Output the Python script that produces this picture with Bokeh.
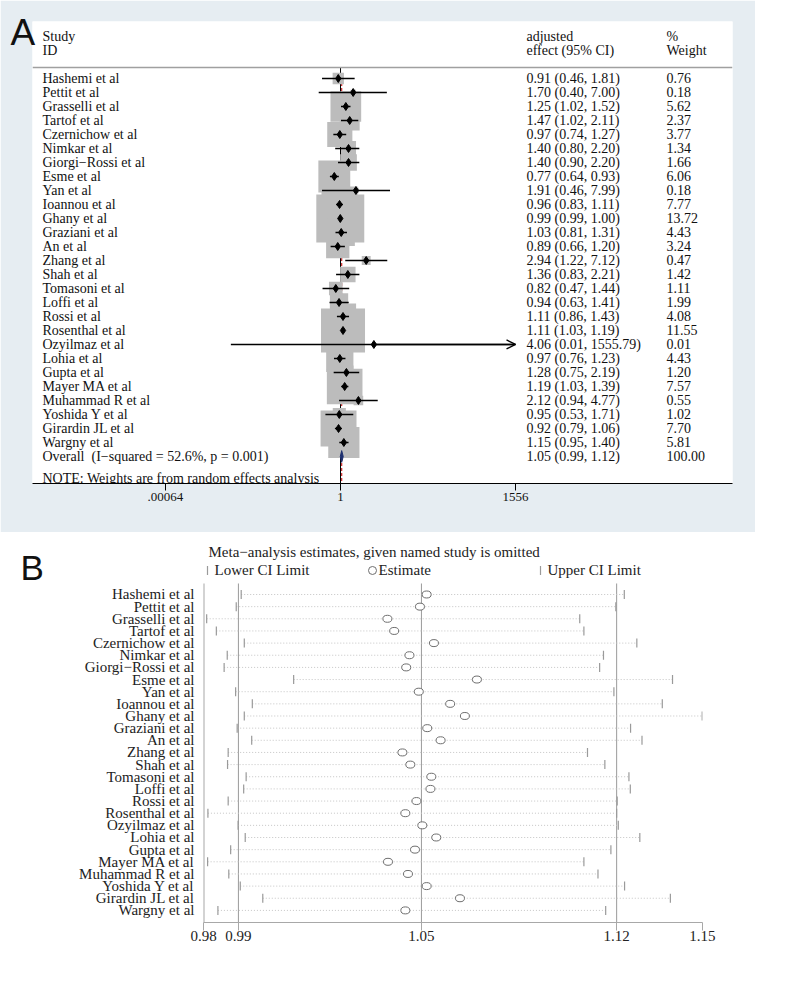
import math
from bokeh.plotting import figure
from bokeh.models import (Range1d, FixedTicker, CustomJSTickFormatter, Span, Label,
                          ColumnDataSource, Arrow, OpenHead, LinearScale)
from bokeh.embed import file_html
from bokeh.resources import INLINE
from bokeh.core.properties import value

SERIF = "Liberation Serif"
SANS = "Liberation Sans"
BG = "#e6edf2"

# ---------------- data ----------------
studies = ["Hashemi et al", "Pettit et al", "Grasselli et al", "Tartof et al",
           "Czernichow et al", "Nimkar et al", "Giorgi\u2212Rossi et al", "Esme et al",
           "Yan et al", "Ioannou et al", "Ghany et al", "Graziani et al", "An et al",
           "Zhang et al", "Shah et al", "Tomasoni et al", "Loffi et al", "Rossi et al",
           "Rosenthal et al", "Ozyilmaz et al", "Lohia et al", "Gupta et al",
           "Mayer MA et al", "Muhammad R et al", "Yoshida Y et al", "Girardin JL et al",
           "Wargny et al"]
effect = [0.91, 1.70, 1.25, 1.47, 0.97, 1.40, 1.40, 0.77, 1.91, 0.96, 0.99, 1.03, 0.89,
          2.94, 1.36, 0.82, 0.94, 1.11, 1.11, 4.06, 0.97, 1.28, 1.19, 2.12, 0.95, 0.92, 1.15]
lower = [0.46, 0.40, 1.02, 1.02, 0.74, 0.80, 0.90, 0.64, 0.46, 0.83, 0.99, 0.81, 0.66,
         1.22, 0.83, 0.47, 0.63, 0.86, 1.03, 0.01, 0.76, 0.75, 1.03, 0.94, 0.53, 0.79, 0.95]
upper = [1.81, 7.00, 1.52, 2.11, 1.27, 2.20, 2.20, 0.93, 7.99, 1.11, 1.00, 1.31, 1.20,
         7.12, 2.21, 1.44, 1.41, 1.43, 1.19, 1555.79, 1.23, 2.19, 1.39, 4.77, 1.71, 1.06, 1.40]
weight = [0.76, 0.18, 5.62, 2.37, 3.77, 1.34, 1.66, 6.06, 0.18, 7.77, 13.72, 4.43, 3.24,
          0.47, 1.42, 1.11, 1.99, 4.08, 11.55, 0.01, 4.43, 1.20, 7.57, 0.55, 1.02, 7.70, 5.81]
overall_est, overall_lo, overall_hi = 1.05, 0.99, 1.12
overall_weight = 100.00
i_squared = 52.6
p_het = 0.001
a_ticks = [0.00064, 1, 1556]
a_tick_labels = [".00064", "1", "1556"]

b_lower = [0.9906, 0.9890, 0.9795, 0.9826, 0.9916, 0.9861, 0.9851, 1.0077, 0.9888, 0.9942,
           0.9916, 0.9893, 0.9940, 0.9864, 0.9862, 0.9922, 0.9914, 0.9864, 0.9799, 0.9896,
           0.9919, 0.9872, 0.9798, 0.9866, 0.9903, 0.9976, 0.9831]
b_est = [1.0524, 1.0501, 1.0390, 1.0413, 1.0549, 1.0465, 1.0454, 1.0698, 1.0497, 1.0605,
         1.0656, 1.0526, 1.0572, 1.0441, 1.0468, 1.0540, 1.0537, 1.0489, 1.0451, 1.0509,
         1.0557, 1.0484, 1.0392, 1.0460, 1.0524, 1.0639, 1.0451]
b_upper = [1.1225, 1.1194, 1.1063, 1.1078, 1.1271, 1.1149, 1.1135, 1.1403, 1.1187, 1.1365,
           1.1514, 1.1248, 1.1290, 1.1091, 1.1154, 1.1242, 1.1247, 1.1199, 1.1197, 1.1203,
           1.1282, 1.1176, 1.1078, 1.1129, 1.1226, 1.1395, 1.1157]
b_overall = [0.9897, 1.0506, 1.1197]
b_ticks = [0.9785, 0.9897, 1.0506, 1.1197, 1.1515]
b_tick_labels = ["0.98", "0.99", "1.05", "1.12", "1.15"]
b_title = "Meta\u2212analysis estimates, given named study is omitted"
b_legend = ["Lower CI Limit", "Estimate", "Upper CI Limit"]

n = len(studies)
rows = list(range(1, n + 1))

FMT = """
let best = 0, bd = Infinity;
for (let i = 0; i < vals.length; i++) {
  const d = Math.abs(Math.log(tick) - Math.log(vals[i]));
  if (d < bd) { bd = d; best = i; }
}
return labs[best];
"""

# ---------------- Panel A ----------------
pA = figure(width=755, height=532, x_axis_type="log",
            x_range=Range1d(2.41e-6, 1.41e7), y_range=Range1d(29.929, -3.071),
            y_axis_location=None, output_backend="svg", toolbar_location=None,
            min_border_left=32, min_border_right=23, min_border_top=21, min_border_bottom=49)
pA.extra_x_ranges = {"px": Range1d(0, 700)}
pA.extra_x_scales = {"px": LinearScale()}
pA.background_fill_color = "white"
pA.border_fill_color = BG
pA.outline_line_color = None
pA.grid.visible = False

srcA = ColumnDataSource(dict(
    row=rows, est=effect, lo=lower, hi=upper,
    box=[12.95 * math.sqrt(w) for w in weight],
    name=studies,
    eff=[f"{e:.2f} ({l:.2f}, {u:.2f})" for e, l, u in zip(effect, lower, upper)],
    wt=[f"{w:.2f}" for w in weight],
))

overall_row = n + 1
pA.segment(x0=[1], y0=[0.214], x1=[1], y1=[29.93], line_color="black", line_width=1)
pA.segment(x0=[overall_est], y0=[0.6], x1=[overall_est], y1=[29.93],
           line_color="#cc2a2a", line_dash="3 2", line_width=1.2)
pA.scatter("est", "row", source=srcA, marker="square", size="box",
           fill_color="#bcbcbc", line_color=None)
pA.segment(x0="lo", y0="row", x1="hi", y1="row", source=srcA, line_color="black", line_width=1.4)
for i in range(n):
    if upper[i] >= 0.99 * a_ticks[-1]:
        pA.add_layout(Arrow(end=OpenHead(size=9, line_width=1.4, line_color="black"),
                            x_start=effect[i], y_start=rows[i], x_end=upper[i], y_end=rows[i],
                            line_width=1.4, line_color="black"))
pA.scatter("est", "row", source=srcA, marker="diamond", size=8,
           fill_color="black", line_color="black")
pA.patch(x=[overall_lo, overall_est, overall_hi, overall_est],
         y=[overall_row, overall_row - 0.42, overall_row, overall_row + 0.42],
         fill_color="#1d2f6f", line_color="#1d2f6f", line_width=1)

txt = dict(x_range_name="px", text_font=value(SERIF), text_font_size="14px",
           text_baseline="middle", text_color="#111111")
pA.text(x=10, y="row", text="name", source=srcA, **txt)
pA.text(x=494, y="row", text="eff", source=srcA, **txt)
pA.text(x=634, y="row", text="wt", source=srcA, **txt)
pA.text(x=[10, 10, 494, 494, 634, 634], y=[-2.0, -1.0, -2.0, -1.0, -2.0, -1.0],
        text=["Study", "ID", "adjusted", "effect (95% CI)", "%", "Weight"], **txt)
pA.text(x=[10, 494, 634], y=[overall_row] * 3,
        text=[f"Overall\u00a0 (I\u2212squared = {i_squared:.1f}%, p = {p_het:.3f})",
              f"{overall_est:.2f} ({overall_lo:.2f}, {overall_hi:.2f})",
              f"{overall_weight:.2f}"], **txt)
pA.text(x=[10], y=[29.57], text=["NOTE: Weights are from random effects analysis"], **txt)

pA.add_layout(Span(location=0.214, dimension="width", line_color="#a0a0a0", line_width=1.5))

ax = pA.xaxis[0]
ax.ticker = FixedTicker(ticks=a_ticks, minor_ticks=[])
ax.formatter = CustomJSTickFormatter(args=dict(vals=a_ticks, labs=a_tick_labels), code=FMT)
ax.major_tick_out = 7
ax.major_tick_in = 0
ax.minor_tick_line_color = None
ax.axis_line_color = "black"
ax.major_tick_line_color = "black"
ax.major_label_text_font = SERIF
ax.major_label_text_font_size = "13px"
ax.major_label_text_color = "#111111"
ax.major_label_standoff = 2

pA.add_layout(Label(x=-22, y=-2.286, x_range_name="px", text="A", text_font=SANS,
                    text_font_size="37px", text_baseline="alphabetic", text_align="left",
                    text_color="#111111"), "left")

# ---------------- Panel B ----------------
B_TOP, B_BOT = 0.0947, 27.996      # rows at the top and bottom of the plotting region
pB = figure(width=755, height=441, x_axis_type="log",
            x_range=Range1d(0.97849, 1.15151), y_range=Range1d(B_BOT, -3.444),
            output_backend="svg", toolbar_location=None,
            min_border_left=203, min_border_right=53, min_border_top=8, min_border_bottom=51)
pB.extra_x_ranges = {"px": Range1d(0, 499)}
pB.extra_x_scales = {"px": LinearScale()}
pB.background_fill_color = "white"
pB.border_fill_color = "white"
pB.outline_line_color = None
pB.grid.visible = False

GRAY = "#9a9a9a"
srcB = ColumnDataSource(dict(row=rows, lo=b_lower, est=b_est, hi=b_upper))
# left axis line and reference lines (overall estimate and its CI)
pB.segment(x0=[0.97849], y0=[B_TOP], x1=[0.97849], y1=[B_BOT], line_color="#a8a8a8", line_width=2)
pB.segment(x0=b_overall, y0=[B_TOP] * 3, x1=b_overall, y1=[B_BOT] * 3,
           line_color=GRAY, line_width=1)
pB.segment(x0="lo", y0="row", x1="hi", y1="row", source=srcB,
           line_color="#c4c4c4", line_dash="1 2", line_width=1)
pB.scatter("lo", "row", source=srcB, marker="dash", angle=math.pi / 2, size=9,
           line_color=GRAY, line_width=1.2)
pB.scatter("hi", "row", source=srcB, marker="dash", angle=math.pi / 2, size=9,
           line_color=GRAY, line_width=1.2)
pB.ellipse(x="est", y="row", width=9, height=7, width_units="screen",
           height_units="screen", source=srcB, fill_color="white",
           line_color="#6e6e6e", line_width=1)

# title and key
btxt = dict(x_range_name="px", text_font=value(SERIF), text_font_size="15px",
            text_baseline="middle", text_color="#222222")
pB.text(x=[5], y=[-2.457], text=[b_title], **btxt)
pB.text(x=[11, 175, 344], y=[-0.975] * 3, text=b_legend, **btxt)
pB.scatter(x=[4, 337], y=[-0.975, -0.975], x_range_name="px", marker="dash",
           angle=math.pi / 2, size=9, line_color=GRAY, line_width=1.2)
pB.ellipse(x=[169], y=[-0.975], x_range_name="px", width=8, height=8, width_units="screen",
           height_units="screen", fill_color="white", line_color="#6e6e6e", line_width=1)

bx = pB.xaxis[0]
bx.ticker = FixedTicker(ticks=b_ticks, minor_ticks=[])
bx.formatter = CustomJSTickFormatter(args=dict(vals=b_ticks, labs=b_tick_labels), code=FMT)
bx.major_tick_out = 8
bx.major_tick_in = 0
bx.minor_tick_line_color = None
bx.axis_line_color = "#a8a8a8"
bx.major_tick_line_color = "#a8a8a8"
bx.major_label_text_font = SERIF
bx.major_label_text_font_size = "15px"
bx.major_label_text_color = "#222222"
bx.major_label_standoff = 0

by = pB.yaxis[0]
by.ticker = FixedTicker(ticks=rows, minor_ticks=[])
by.formatter = CustomJSTickFormatter(args=dict(names=studies),
                                     code="return names[Math.round(tick) - 1];")
by.major_tick_out = 0
by.major_tick_in = 0
by.minor_tick_line_color = None
by.axis_line_color = None
by.major_label_text_font = SERIF
by.major_label_text_font_size = "15px"
by.major_label_text_color = "#222222"
by.major_label_standoff = 9

pB.add_layout(Label(x=-183, y=-1.222, x_range_name="px", text="B", text_font=SANS,
                    text_font_size="35px", text_color="#111111", text_align="left",
                    text_baseline="alphabetic"), "left")

open("out.html", "w").write(file_html([pA, pB], INLINE))
